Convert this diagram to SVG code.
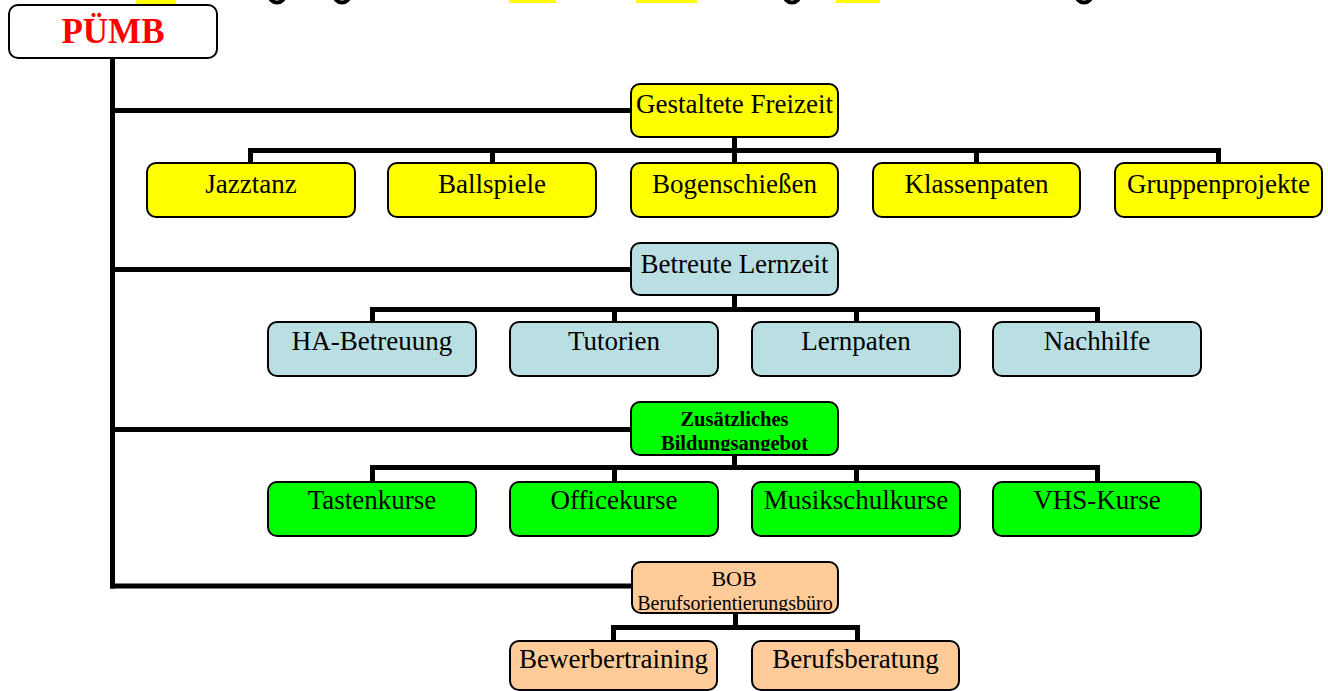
<svg xmlns="http://www.w3.org/2000/svg" width="1328" height="691" viewBox="0 0 1328 691">
<style>
.box{stroke:#000;stroke-width:2}
.y{fill:#FFFF00}.b{fill:#BADFE2}.g{fill:#00FF00}.o{fill:#FFCC99}.w{fill:#FFFFFF}
.t{font-family:"Liberation Serif","Times New Roman",serif;font-size:27px;fill:#000;text-anchor:middle}
.c{fill:none;stroke:#000;stroke-width:5;stroke-linejoin:miter;stroke-linecap:butt}
</style>
<defs>
<clipPath id="clipZ"><rect x="632" y="403" width="205" height="48"/></clipPath>
<clipPath id="clipB"><rect x="632" y="563" width="205" height="48"/></clipPath>
</defs>
<g id="top-fragments">
<rect x="136" y="0" width="40" height="4" fill="#FFFF00"/>
<rect x="509" y="0" width="47" height="3" fill="#FFFF00"/>
<rect x="636" y="0" width="61" height="3" fill="#FFFF00"/>
<rect x="836" y="0" width="44" height="3" fill="#FFFF00"/>
<ellipse cx="277" cy="-6" rx="8" ry="8.5" fill="none" stroke="#000" stroke-width="4"/>
<ellipse cx="342" cy="-6" rx="8" ry="8.5" fill="none" stroke="#000" stroke-width="4"/>
<ellipse cx="792" cy="-6" rx="8" ry="8.5" fill="none" stroke="#000" stroke-width="4"/>
<ellipse cx="1084" cy="-6" rx="8" ry="8.5" fill="none" stroke="#000" stroke-width="4"/>
</g>
<g id="connectors">
<path class="c" d="M112.5,58 V588.5"/>
<path class="c" d="M110,110.5 H631"/>
<path class="c" d="M110,269.5 H631"/>
<path class="c" d="M110,429.5 H631"/>
<path class="c" d="M110,586 H632"/>
<path class="c" d="M734.5,137 V163 M250.5,163 V150.5 H1218.5 V163 M492.5,150.5 V163 M976.5,150.5 V163"/>
<path class="c" d="M734.5,295 V309.5 M372.5,322 V309.5 H1097.5 V322 M614.5,309.5 V322 M856.5,309.5 V322"/>
<path class="c" d="M734.5,455 V467.5 M372.5,482 V467.5 H1097.5 V482 M614.5,467.5 V482 M856.5,467.5 V482"/>
<path class="c" d="M735.5,613 V627.5 M613.5,641 V627.5 H857.5 V641"/>
</g>
<g id="pumb">
<rect class="box w" x="9" y="5" width="208" height="53" rx="9"/>
<text x="113" y="43" style="font-family:'Liberation Serif','Times New Roman',serif;font-size:35px;font-weight:bold;fill:#FF0000;text-anchor:middle">PÜMB</text>
</g>
<g id="gestaltete-freizeit">
<rect class="box y" x="631" y="84" width="207" height="53" rx="9"/>
<text class="t" x="734.5" y="113">Gestaltete Freizeit</text>
</g>
<g id="jazztanz"><rect class="box y" x="147" y="163" width="208" height="54" rx="9"/><text class="t" x="251" y="193">Jazztanz</text></g>
<g id="ballspiele"><rect class="box y" x="388" y="163" width="208" height="54" rx="9"/><text class="t" x="492" y="193">Ballspiele</text></g>
<g id="bogenschiessen"><rect class="box y" x="631" y="163" width="207" height="54" rx="9"/><text class="t" x="734.5" y="193">Bogenschießen</text></g>
<g id="klassenpaten"><rect class="box y" x="873" y="163" width="207" height="54" rx="9"/><text class="t" x="976.5" y="193">Klassenpaten</text></g>
<g id="gruppenprojekte"><rect class="box y" x="1115" y="163" width="207" height="54" rx="9"/><text class="t" x="1218.5" y="193">Gruppenprojekte</text></g>
<g id="betreute-lernzeit">
<rect class="box b" x="631" y="243" width="207" height="52" rx="9"/>
<text class="t" x="734.5" y="273">Betreute Lernzeit</text>
</g>
<g id="ha-betreuung"><rect class="box b" x="268" y="322" width="208" height="54" rx="9"/><text class="t" x="372" y="350">HA-Betreuung</text></g>
<g id="tutorien"><rect class="box b" x="510" y="322" width="208" height="54" rx="9"/><text class="t" x="614" y="350">Tutorien</text></g>
<g id="lernpaten"><rect class="box b" x="752" y="322" width="208" height="54" rx="9"/><text class="t" x="856" y="350">Lernpaten</text></g>
<g id="nachhilfe"><rect class="box b" x="993" y="322" width="208" height="54" rx="9"/><text class="t" x="1097" y="350">Nachhilfe</text></g>
<g id="zusaetzliches-bildungsangebot">
<rect class="box g" x="631" y="402" width="207" height="53" rx="9"/>
<g clip-path="url(#clipZ)">
<text class="t" x="734.5" y="426" style="font-size:20.5px;font-weight:bold">Zusätzliches</text>
<text class="t" x="734.5" y="450" style="font-size:20.5px;font-weight:bold">Bildungsangebot</text>
</g>
</g>
<g id="tastenkurse"><rect class="box g" x="268" y="482" width="208" height="54" rx="9"/><text class="t" x="372" y="509">Tastenkurse</text></g>
<g id="officekurse"><rect class="box g" x="510" y="482" width="208" height="54" rx="9"/><text class="t" x="614" y="509">Officekurse</text></g>
<g id="musikschulkurse"><rect class="box g" x="752" y="482" width="208" height="54" rx="9"/><text class="t" x="856" y="509">Musikschulkurse</text></g>
<g id="vhs-kurse"><rect class="box g" x="993" y="482" width="208" height="54" rx="9"/><text class="t" x="1097" y="509">VHS-Kurse</text></g>
<g id="bob">
<rect class="box o" x="632" y="562" width="206" height="51" rx="9"/>
<text class="t" x="734" y="586" style="font-size:22px">BOB</text>
<g clip-path="url(#clipB)">
<text class="t" x="735" y="610" style="font-size:20px">Berufsorientierungsbüro</text>
</g>
</g>
<g id="bewerbertraining"><rect class="box o" x="510" y="641" width="207" height="49" rx="9"/><text class="t" x="613.5" y="668">Bewerbertraining</text></g>
<g id="berufsberatung"><rect class="box o" x="752" y="641" width="207" height="49" rx="9"/><text class="t" x="855.5" y="668">Berufsberatung</text></g>
</svg>
